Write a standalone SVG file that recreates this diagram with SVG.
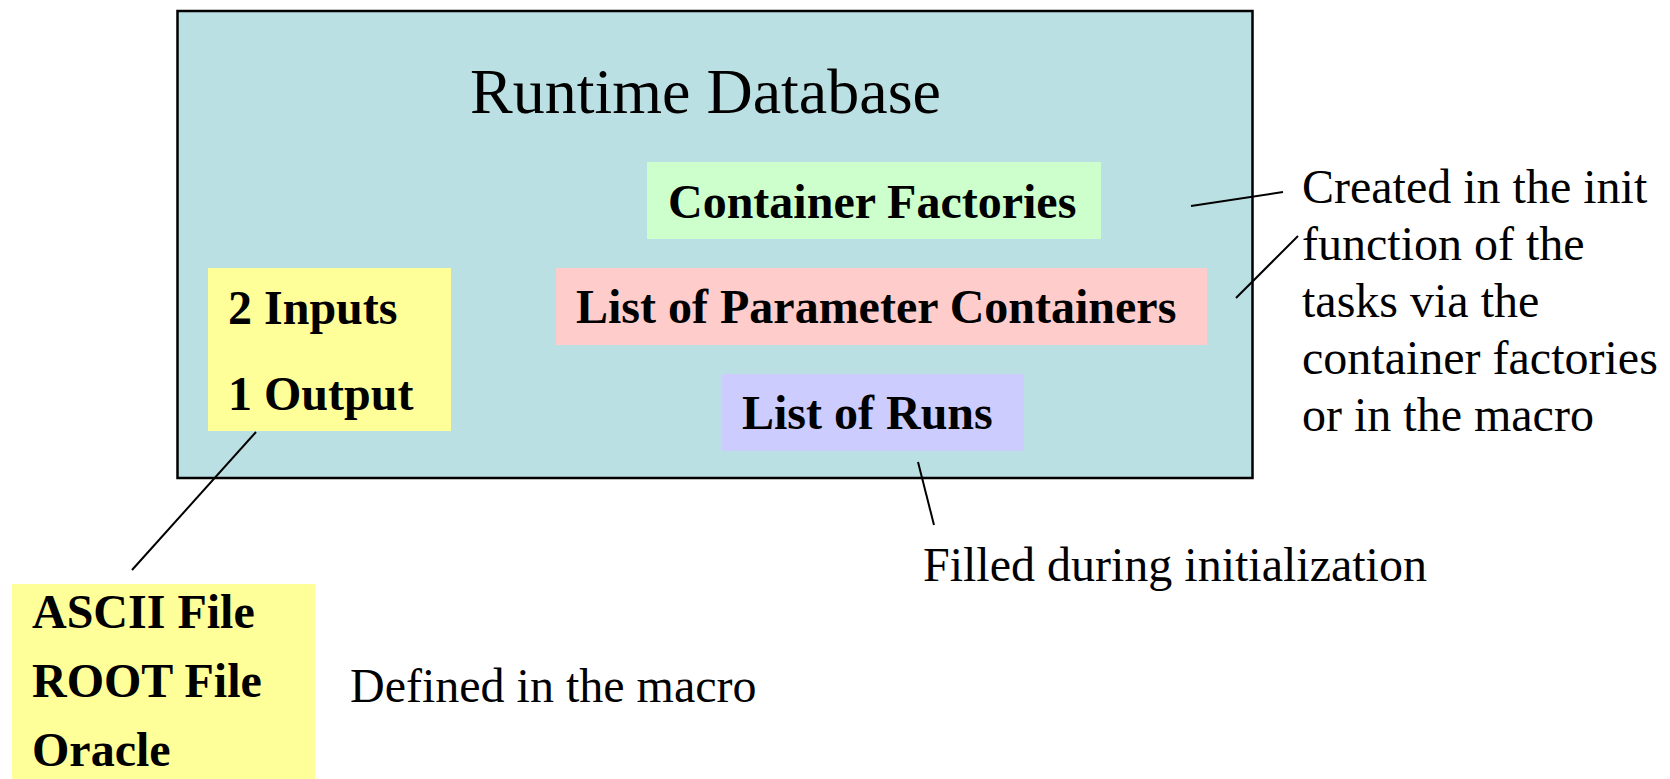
<svg xmlns="http://www.w3.org/2000/svg" width="1670" height="779" viewBox="0 0 1670 779">
<style>
.t{font-family:"Liberation Serif","Times New Roman",serif;font-size:48px;fill:#000}
.b{font-weight:bold}
.ln{stroke:#000;stroke-width:2;fill:none}
</style>
<rect width="1670" height="779" fill="#fff"/>
<g id="runtime-database">
<rect x="177.5" y="11" width="1075" height="467" fill="#BBE0E3" stroke="#000" stroke-width="2.5"/>
<text class="t" x="470" y="113" style="font-size:64px">Runtime Database</text>
</g>
<g id="container-factories">
<rect x="647" y="162" width="454" height="77" fill="#CCFFCC"/>
<text class="t b" x="668" y="218">Container Factories</text>
</g>
<g id="parameter-containers">
<rect x="556" y="268" width="651" height="77" fill="#FFCCCC"/>
<text class="t b" x="576" y="323">List of Parameter Containers</text>
</g>
<g id="list-of-runs">
<rect x="722" y="374" width="302" height="77" fill="#CCCCFF"/>
<text class="t b" x="742" y="429">List of Runs</text>
</g>
<g id="io">
<rect x="208" y="268" width="243" height="163" fill="#FFFF99"/>
<text class="t b" x="228" y="324">2 Inputs</text>
<text class="t b" x="228" y="410">1 Output</text>
</g>
<g id="file-types">
<rect x="12" y="584" width="303" height="195" fill="#FFFF99"/>
<text class="t b" x="32" y="628">ASCII File</text>
<text class="t b" x="32" y="697">ROOT File</text>
<text class="t b" x="32" y="766">Oracle</text>
</g>
<g id="note-macro">
<text class="t" x="350" y="702">Defined in the macro</text>
</g>
<g id="note-init">
<text class="t" x="923" y="581">Filled during initialization</text>
</g>
<g id="note-created">
<text class="t" x="1302" y="203">Created in the init</text>
<text class="t" x="1302" y="260">function of the</text>
<text class="t" x="1302" y="317">tasks via the</text>
<text class="t" x="1302" y="374">container factories</text>
<text class="t" x="1302" y="431">or in the macro</text>
</g>
<g id="connectors">
<line class="ln" x1="256" y1="432" x2="132" y2="570"/>
<line class="ln" x1="918" y1="462" x2="934" y2="525"/>
<line class="ln" x1="1191" y1="206" x2="1283" y2="192"/>
<line class="ln" x1="1236" y1="298" x2="1298" y2="236"/>
</g>
</svg>
